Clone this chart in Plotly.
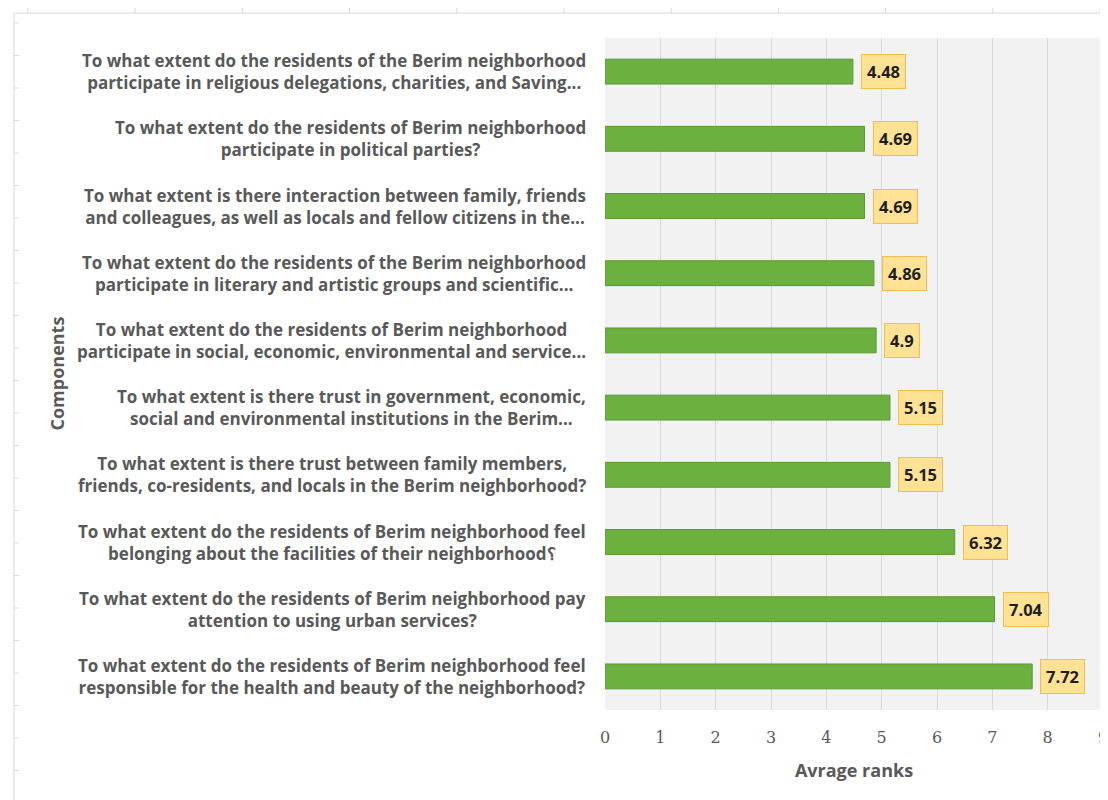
import plotly.graph_objects as go

categories = [
    "To what extent do the residents of the Berim neighborhood<br>participate in religious delegations, charities, and Saving...",
    "To what extent do the residents of Berim neighborhood<br>participate in political parties?",
    "To what extent is there interaction between family, friends<br>and colleagues, as well as locals and fellow citizens in the...",
    "To what extent do the residents of the Berim neighborhood<br>participate in literary and artistic groups and scientific...",
    "To what extent do the residents of Berim neighborhood<br>participate in social, economic, environmental and service...",
    "To what extent is there trust in government, economic,<br>social and environmental institutions in the Berim...",
    "To what extent is there trust between family members,<br>friends, co-residents, and locals in the Berim neighborhood?",
    "To what extent do the residents of Berim neighborhood feel<br>belonging about the facilities of their neighborhood\u061f",
    "To what extent do the residents of Berim neighborhood pay<br>attention to using urban services?",
    "To what extent do the residents of Berim neighborhood feel<br>responsible for the health and beauty of the neighborhood?",
]
values = [4.48, 4.69, 4.69, 4.86, 4.9, 5.15, 5.15, 6.32, 7.04, 7.72]
value_labels = ["4.48", "4.69", "4.69", "4.86", "4.9", "5.15", "5.15", "6.32", "7.04", "7.72"]
x_ticks = [0, 1, 2, 3, 4, 5, 6, 7, 8, 9]

ids = [f"c{i}" for i in range(len(categories))]

FONT = "Open Sans, Lato, sans-serif"

fig = go.Figure()
fig.add_trace(go.Bar(
    y=ids, x=values, orientation="h",
    marker=dict(color="#6cb040", line=dict(color="#5a9833", width=1)),
    width=0.37,
    hoverinfo="x",
))

label_font = dict(family=FONT, size=17, color="#595959", weight="bold")

annotations = []
for cid, cat in zip(ids, categories):
    annotations.append(dict(
        xref="paper", yref="y", x=0, y=cid, xanchor="right", yanchor="middle",
        xshift=-17, text=cat, showarrow=False, align="center", font=label_font,
    ))
for cid, v, lab in zip(ids, values, value_labels):
    annotations.append(dict(
        xref="x", yref="y", x=v, y=cid, xanchor="left", yanchor="middle",
        xshift=8, text=lab, showarrow=False,
        font=dict(family=FONT, size=16.5, color="#1e1e1e", weight="bold"),
        bgcolor="#ffe294", bordercolor="#f0bd4e", borderwidth=1, borderpad=5,
    ))
annotations.append(dict(
    xref="paper", yref="paper", x=(51 - 605) / 503, y=0.5, xanchor="center", yanchor="middle",
    text="Components", textangle=-90, showarrow=False,
    font=dict(family=FONT, size=18, color="#595959", weight="bold"),
))

# sheet-like frame artefacts (top and left edges)
frame_color = "#d9d9d9"
shapes = [
    dict(type="line", xref="paper", yref="paper", x0=(8 - 605) / 503, x1=1.0, y0=1.037, y1=1.037,
         line=dict(color=frame_color, width=1)),
    dict(type="line", xref="paper", yref="paper", x0=(8 - 605) / 503, x1=(8 - 605) / 503, y0=1.037, y1=-0.15,
         line=dict(color=frame_color, width=1)),
]
for k in range(11):
    px = 22 + k * 108.3
    xp = (px - 605) / 503
    shapes.append(dict(type="line", xref="paper", yref="paper", x0=xp, x1=xp,
                       y0=1.037, y1=1.037 + 6 / 672, line=dict(color=frame_color, width=1)))
for k in range(24):
    py = 23 + k * 32.5
    yp = (710 - py) / 672
    shapes.append(dict(type="line", xref="paper", yref="paper", x0=(8 - 605) / 503, x1=(13 - 605) / 503,
                       y0=yp, y1=yp, line=dict(color=frame_color, width=1)))

fig.update_layout(
    width=1100, height=792,
    margin=dict(l=597, r=0, t=30, b=90),
    paper_bgcolor="white",
    plot_bgcolor="#f2f2f2",
    showlegend=False,
    annotations=annotations,
    shapes=shapes,
    xaxis=dict(
        range=[0, 9.0], tickvals=x_ticks, ticktext=[str(t) for t in x_ticks],
        showgrid=True, gridcolor="#d9d9d9", gridwidth=1, zeroline=False,
        showline=False, ticks="", ticklen=0, ticklabeloverflow="allow",
        ticklabelstandoff=16,
        tickfont=dict(family="DejaVu Serif, serif", size=16, color="#595959"),
        title=dict(text="Avrage ranks", standoff=18,
                   font=dict(family=FONT, size=18, color="#595959", weight="bold")),
    ),
    yaxis=dict(
        categoryorder="array", categoryarray=ids[::-1],
        showticklabels=False, showgrid=False, zeroline=False, showline=False,
        range=[-0.5, 9.5],
    ),
)

fig.write_html("out.html")
